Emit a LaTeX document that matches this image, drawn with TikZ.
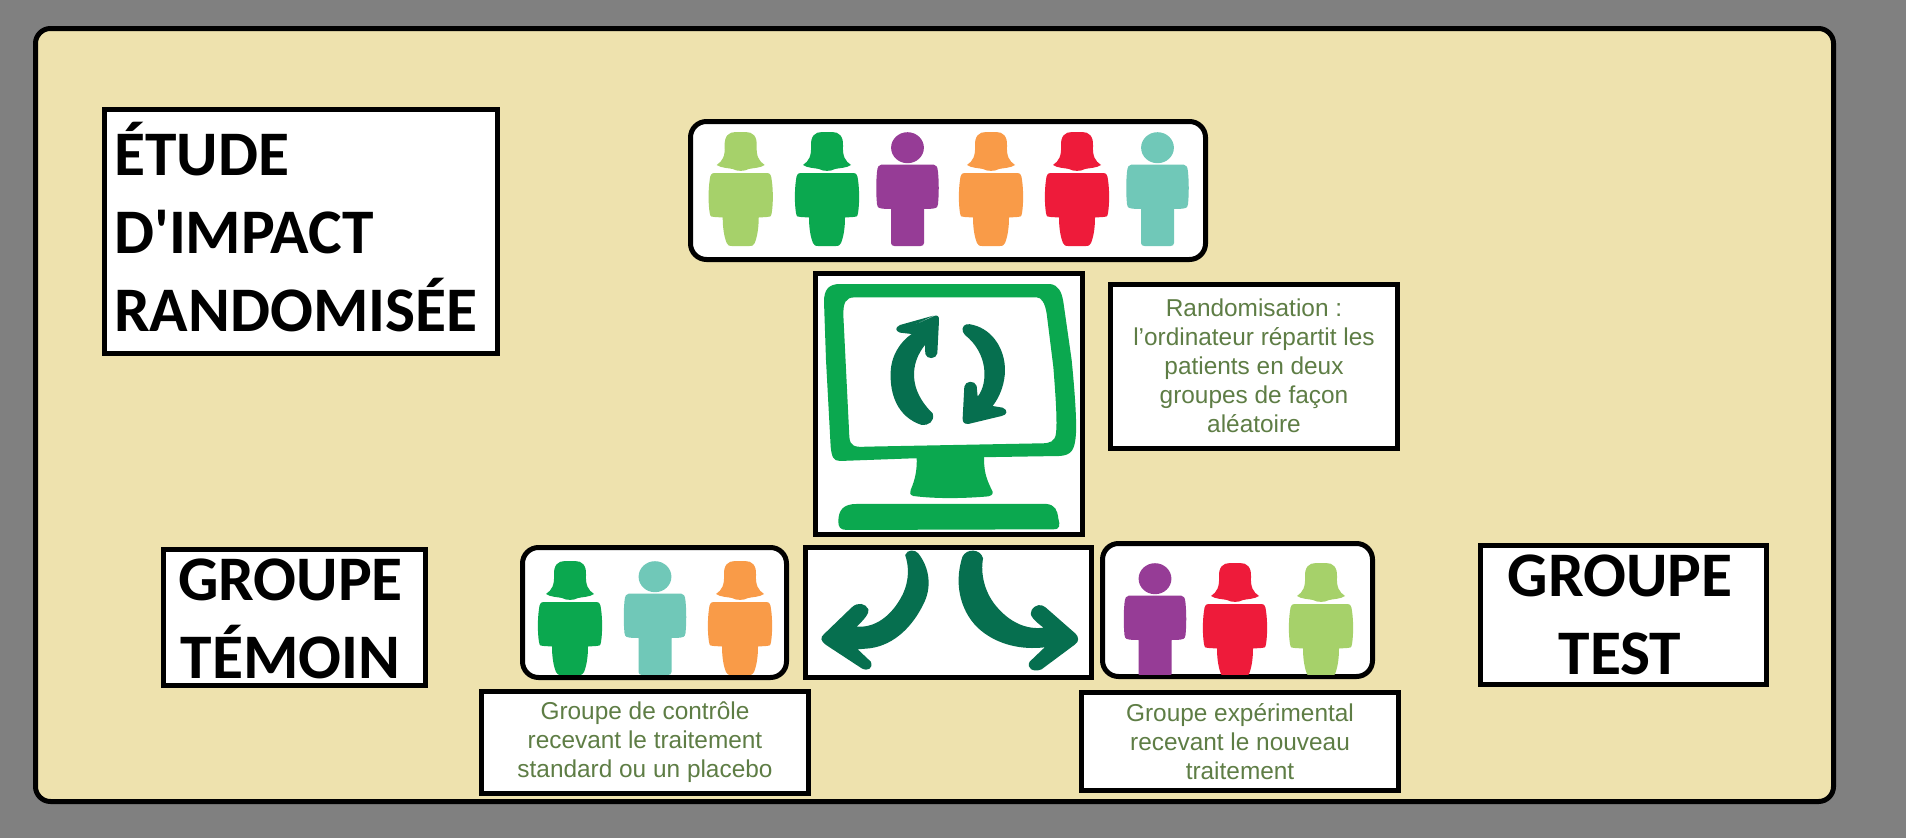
\documentclass[tikz,border=0pt]{standalone}
\usepackage{fontspec}
\setmainfont{Liberation Sans}
\newfontfamily\titlefont{Carlito}
\definecolor{bggrey}{HTML}{808080}
\definecolor{panel}{HTML}{EEE2AE}
\definecolor{lime}{HTML}{A6D16A}
\definecolor{grn}{HTML}{0BA84F}
\definecolor{purp}{HTML}{963C96}
\definecolor{orng}{HTML}{F99B48}
\definecolor{redd}{HTML}{EE1B3A}
\definecolor{teal2}{HTML}{70C8B8}
\definecolor{darkg}{HTML}{066F4F}
\definecolor{captc}{HTML}{5E7D45}
\tikzset{
  x=1pt,y=-1pt,
  boxsq/.style={draw=black,fill=white,line width=5pt,rectangle,inner sep=0pt,outer sep=0pt},
  boxrd/.style={boxsq,rounded corners=16pt},
  caption/.style={boxsq,align=center,text=captc,font=\fontsize{24.4}{29}\selectfont},
  titlebox/.style={boxsq,font=\titlefont\bfseries\fontsize{63.5}{78}\selectfont},
  pics/woman/.style={code={
    \fill[#1] (-24,33) .. controls (-18,29) and (-15.5,24) .. (-16,14) .. controls (-16.5,4) and (-12,0) .. (-5,0) -- (5,0) .. controls (12,0) and (16.5,4) .. (16,14) .. controls (15.5,24) and (18,29) .. (24,33) .. controls (20,36) and (12,36) .. (8,37) .. controls (4,39.5) and (-4,39.5) .. (-8,37) .. controls (-12,36) and (-20,36) .. (-24,33) -- cycle;
    \fill[#1] (-26,41) -- (26,41) .. controls (29.5,41) and (30.5,43) .. (31,48) .. controls (32.5,58) and (32.5,72) .. (31,81) .. controls (30.5,85) and (29,85) .. (26,85) -- (18,85.5) .. controls (18,96) and (16.5,105) .. (14,111) .. controls (13,114) and (11,114) .. (9,114) -- (-9,114) .. controls (-11,114) and (-13,114) .. (-14,111) .. controls (-16.5,105) and (-18,96) .. (-18,85.5) -- (-26,85) .. controls (-29,85) and (-30.5,85) .. (-31,81) .. controls (-32.5,72) and (-32.5,58) .. (-31,48) .. controls (-30.5,43) and (-29.5,41) .. (-26,41) -- cycle;
  }},
  pics/man/.style={code={
    \fill[#1] (0,15.7) ellipse [x radius=16.4,y radius=15.5];
    \fill[#1] (-26,32.5) -- (26,32.5) .. controls (29,32.5) and (30,35) .. (30.5,40) .. controls (31.5,50) and (31.5,62) .. (30.5,72) .. controls (30,76) and (28,76.5) .. (25,76.7) -- (16.5,77) -- (16.5,111) .. controls (16.5,113) and (15,114) .. (13,114) -- (-13,114) .. controls (-15,114) and (-16.5,113) .. (-16.5,111) -- (-16.5,77) -- (-25,76.7) .. controls (-28,76.5) and (-30,76) .. (-30.5,72) .. controls (-31.5,62) and (-31.5,50) .. (-30.5,40) .. controls (-30,35) and (-29,32.5) .. (-26,32.5) -- cycle;
  }},
}
\begin{document}
\begin{tikzpicture}
\useasboundingbox (0,0) rectangle (1906,838);
\fill[bggrey] (0,0) rectangle (1906,838);
\node[boxrd,fill=panel,rounded corners=15pt,minimum width=1798pt,minimum height=773pt] (panel) at (934.5,415) {};

\node[boxsq,minimum width=393pt,minimum height=244pt] (title) at (301,231.5) {};
\node[font=\titlefont\bfseries\fontsize{63.5}{78}\selectfont,align=left,anchor=west,inner sep=0pt] (titletxt) at (114,227.5) {ÉTUDE\\D'IMPACT\\RANDOMISÉE};

\node[boxrd,minimum width=515pt,minimum height=138pt] (crowd) at (948,190.5) {};
\pic at (740.7,132) {woman=lime};
\pic at (827,132) {woman=grn};
\pic at (907.5,132) {man=purp};
\pic at (991,132) {woman=orng};
\pic at (1077,132) {woman=redd};
\pic at (1157.5,132) {man=teal2};

\node[boxsq,minimum width=267pt,minimum height=261pt] (screen) at (949,404) {};
\begin{scope}[shift={(800,260)},x=0.3333pt,y=-0.3333pt]
  \fill[grn,even odd rule]
    (72,125) .. controls (72,90) and (85,72) .. (120,72) -- (750,72) .. controls (775,75) and (785,95) .. (790,125) -- (815,300) .. controls (825,400) and (830,480) .. (828,520) .. controls (825,570) and (815,585) .. (780,588) -- (340,595) -- (120,603) .. controls (100,603) and (95,590) .. (92,560) -- (78,300) -- cycle
    (130,165) .. controls (130,130) and (135,112) .. (165,112) -- (710,112) .. controls (725,112) and (735,130) .. (740,160) -- (760,320) .. controls (768,420) and (772,490) .. (768,520) .. controls (765,545) and (750,550) .. (725,550) -- (200,560) .. controls (165,562) and (150,560) .. (148,530) -- cycle;
  \fill[grn] (350,590) -- (552,585) .. controls (552,630) and (555,650) .. (578,695) .. controls (580,705) and (570,710) .. (555,710) .. controls (480,716) and (400,716) .. (340,708) .. controls (330,705) and (328,698) .. (332,690) .. controls (345,660) and (352,630) .. (350,590) -- cycle;
  \fill[grn] (115,785) .. controls (115,750) and (130,732) .. (170,732) -- (740,732) .. controls (765,735) and (772,750) .. (775,775) .. controls (780,795) and (782,808) .. (760,808) -- (140,810) .. controls (120,810) and (115,800) .. (115,785) -- cycle;
  \fill[darkg] (300,215) -- (405,167) .. controls (415,165) and (418,172) .. (417,182) -- (412,280) .. controls (410,297) and (380,300) .. (376,282) -- (375,255) .. controls (330,310) and (325,390) .. (398,460) .. controls (405,485) and (385,497) .. (365,495) .. controls (290,470) and (270,400) .. (272,340) .. controls (272,290) and (300,245) .. (335,222) -- (300,218) .. controls (285,212) and (285,203) .. (300,195) -- (400,167) -- cycle;
  \fill[darkg] (488,205) .. controls (490,192) and (505,190) .. (520,195) .. controls (580,210) and (615,270) .. (615,330) .. controls (615,370) and (600,410) .. (578,438) -- (608,443) .. controls (625,450) and (622,465) .. (605,468) -- (505,492) .. controls (490,492) and (488,485) .. (488,475) -- (493,380) .. controls (495,362) and (525,360) .. (530,378) -- (533,410) .. controls (565,370) and (565,280) .. (495,225) .. controls (488,218) and (487,212) .. (488,205) -- cycle;
\end{scope}

\node[caption,minimum width=287pt,minimum height=164pt] (randtxt) at (1254,366) {Randomisation :\\l’ordinateur répartit les\\patients en deux\\groupes de façon\\aléatoire};

\node[boxsq,minimum width=286pt,minimum height=130pt] (split) at (948.5,612.5) {};
\begin{scope}[shift={(500,530)},x=0.3953pt,y=-0.3333pt]
  \fill[darkg] (1025,75) .. controls (1030,58) and (1050,58) .. (1058,70) .. controls (1085,110) and (1095,170) .. (1070,225) .. controls (1045,285) and (1000,345) .. (935,355) -- (905,358) -- (938,395) .. controls (945,415) and (930,425) .. (915,415) -- (825,345) .. controls (810,332) and (810,322) .. (820,312) -- (890,232) .. controls (905,215) and (925,220) .. (932,238) .. controls (935,250) and (920,270) .. (902,290) .. controls (960,295) and (1000,240) .. (1020,190) .. controls (1035,150) and (1035,110) .. (1025,75) -- cycle;
  \fill[darkg] (1170,80) .. controls (1180,55) and (1215,55) .. (1222,85) .. controls (1215,130) and (1225,190) .. (1260,235) .. controls (1290,275) and (1330,300) .. (1375,293) .. controls (1355,275) and (1335,255) .. (1345,240) .. controls (1355,222) and (1370,222) .. (1380,232) -- (1455,310) .. controls (1465,320) and (1465,335) .. (1455,343) -- (1370,418) .. controls (1350,428) and (1330,415) .. (1340,395) -- (1378,352) .. controls (1320,360) and (1260,345) .. (1215,300) .. controls (1170,255) and (1145,170) .. (1170,80) -- cycle;
\end{scope}

\node[boxrd,minimum width=264pt,minimum height=130pt] (ctrl) at (654.5,612.5) {};
\begin{scope}
  \clip (500,540) rectangle (800,674);
  \pic at (570,561) {woman=grn};
  \pic at (655,561) {man=teal2};
  \pic at (740,561) {woman=orng};
\end{scope}
\node[boxrd,minimum width=270pt,minimum height=133pt] (test) at (1237.5,610) {};
\begin{scope}
  \clip (1100,540) rectangle (1380,674);
  \pic at (1155,563) {man=purp};
  \pic at (1235,563) {woman=redd};
  \pic at (1321,563) {woman=lime};
\end{scope}

\node[caption,minimum width=327pt,minimum height=102pt] (ctrltxt) at (645,742.5) {Groupe de contrôle\\recevant le traitement\\standard ou un placebo};
\node[caption,minimum width=317pt,minimum height=98pt] (testtxt) at (1240,741.5) {Groupe expérimental\\recevant le nouveau\\traitement};

\node[boxsq,minimum width=262pt,minimum height=136pt] (temoin) at (294,617.5) {};
\node[font=\titlefont\bfseries\fontsize{63.5}{78}\selectfont,align=center,inner sep=0pt] (temointxt) at (290.5,619) {GROUPE\\TÉMOIN};
\node[boxsq,minimum width=286pt,minimum height=139pt] (testlbl) at (1623.5,615) {};
\node[font=\titlefont\bfseries\fontsize{63.5}{78}\selectfont,align=center,inner sep=0pt] (testtxt2) at (1620,615) {GROUPE\\TEST};
\end{tikzpicture}
\end{document}
